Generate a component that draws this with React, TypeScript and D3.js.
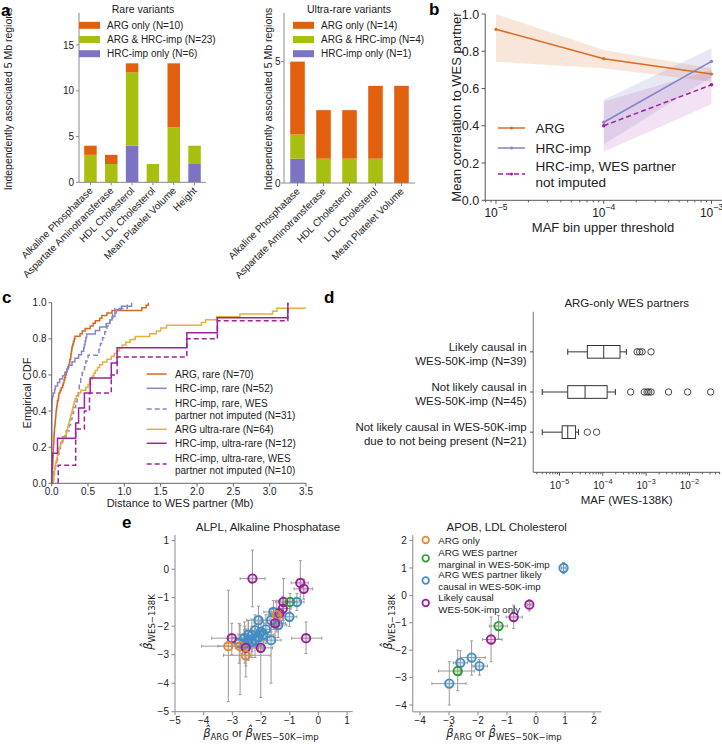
import React from 'react';
import * as d3 from 'd3';

const FONT = '"Liberation Sans", Arial, Helvetica, sans-serif';
const MATH = '"DejaVu Sans", sans-serif';
const TXT = '#222';

// ---------- Panel a data ----------
const traitsRare = ['Alkaline Phosphatase', 'Aspartate Aminotransferase', 'HDL Cholesterol', 'LDL Cholesterol', 'Mean Platelet Volume', 'Height'];
const rareHrcOnly = [0, 0, 4, 0, 0, 2];
const rareBoth = [3, 2, 8, 2, 6, 2];
const rareArgOnly = [1, 1, 1, 0, 7, 0];
const rareLegend = ['ARG only (N=10)', 'ARG & HRC-imp (N=23)', 'HRC-imp only (N=6)'];
const rareTicks = [0, 5, 10, 15];

const traitsUltra = ['Alkaline Phosphatase', 'Aspartate Aminotransferase', 'HDL Cholesterol', 'LDL Cholesterol', 'Mean Platelet Volume'];
const ultraHrcOnly = [1, 0, 0, 0, 0];
const ultraBoth = [1, 1, 1, 1, 0];
const ultraArgOnly = [3, 2, 2, 3, 4];
const ultraLegend = ['ARG only (N=14)', 'ARG & HRC-imp (N=4)', 'HRC-imp only (N=1)'];
const ultraTicks = [0, 5];

// ---------- Panel b data ----------
const argBins = [1e-5, 1e-4, 1e-3];
const argCorr = [0.918, 0.76, 0.678];
const argLo = [0.744, 0.709, 0.636];
const argHi = [1.0, 0.807, 0.709];
const hrcBins = [1e-4, 1e-3];
const hrcCorr = [0.419, 0.746];
const hrcLo = [0.3, 0.66];
const hrcHi = [0.54, 0.816];
const hrcNiCorr = [0.4, 0.62];
const hrcNiLo = [0.26, 0.516];
const hrcNiHi = [0.53, 0.7];
const bYTicks = [0, 0.2, 0.4, 0.6, 0.8, 1.0];
const bXTicks = [1e-5, 1e-4, 1e-3];
const bXExp = [5, 4, 3];

// ---------- Panel c data (distances, Mb) ----------
const argRare = [0.0, 0.0, 0.005, 0.005, 0.008, 0.01, 0.01, 0.012, 0.015, 0.015,
  0.018, 0.02, 0.02, 0.022, 0.025, 0.027, 0.03, 0.03, 0.032, 0.035,
  0.038, 0.04, 0.045, 0.048, 0.05, 0.055, 0.058, 0.06, 0.065, 0.07,
  0.075, 0.08, 0.09, 0.095, 0.1, 0.115, 0.13, 0.15, 0.16, 0.17,
  0.18, 0.19, 0.2, 0.21, 0.22, 0.235, 0.245, 0.25, 0.26, 0.265,
  0.27, 0.275, 0.28, 0.29, 0.3, 0.31, 0.32, 0.39, 0.42, 0.46,
  0.53, 0.57, 0.6, 0.66, 0.69, 0.76, 0.83, 1.24, 1.3, 1.33];
const hrcRare = [0, 0, 0, 0, 0, 0, 0, 0, 0, 0,
  0, 0, 0, 0, 0, 0, 0, 0, 0, 0,
  0.002, 0.003, 0.004, 0.005, 0.01, 0.02, 0.04, 0.05, 0.08, 0.11,
  0.15, 0.18, 0.21, 0.23, 0.28, 0.32, 0.37, 0.41, 0.44, 0.45,
  0.46, 0.47, 0.48, 0.6, 0.66, 0.75, 0.8, 0.83, 0.87, 0.89,
  0.96, 1.1];
const hrcRareNI = [0.02, 0.03, 0.05, 0.07, 0.08, 0.1, 0.12, 0.15, 0.2, 0.24,
  0.26, 0.28, 0.3, 0.33, 0.35, 0.37, 0.38, 0.4, 0.42, 0.45,
  0.47, 0.5, 0.65, 0.67, 0.7, 0.73, 0.76, 0.8, 0.84, 0.87, 1.04];
const argUltra = [0.02, 0.03, 0.03, 0.04, 0.04, 0.05, 0.05, 0.06, 0.07, 0.08,
  0.09, 0.1, 0.11, 0.12, 0.14, 0.16, 0.18, 0.2, 0.21, 0.22,
  0.23, 0.24, 0.25, 0.26, 0.27, 0.28, 0.29, 0.3, 0.31, 0.32,
  0.34, 0.36, 0.4, 0.47, 0.5, 0.52, 0.53, 0.56, 0.58, 0.6,
  0.63, 0.66, 0.7, 0.76, 0.82, 0.86, 0.9, 0.93, 0.97, 1.02,
  1.08, 1.15, 1.35, 1.44, 1.5, 1.58, 2.06, 2.12, 2.27, 2.59,
  3.04, 3.1, 3.8, 4.2];
const hrcUltra = [0.0, 0.01, 0.08, 0.33, 0.37, 0.45, 0.53, 0.82, 0.9, 1.86, 2.28, 3.25];
const hrcUltraNI = [0.09, 0.33, 0.33, 0.45, 0.52, 0.82, 0.9, 1.86, 2.28, 3.25];
const cLegend = ['ARG, rare (N=70)', 'HRC-imp, rare (N=52)', 'HRC-imp, rare, WES|partner not imputed (N=31)', 'ARG ultra-rare (N=64)', 'HRC-imp, ultra-rare (N=12)', 'HRC-imp, ultra-rare, WES|partner not imputed (N=10)'];
const cXTicks = [0, 0.5, 1.0, 1.5, 2.0, 2.5, 3.0, 3.5];
const cYTicks = [0, 0.2, 0.4, 0.6, 0.8, 1.0];

// ---------- Panel d data (MAF) ----------
const dCats = ['Likely causal in|WES-50K-imp (N=39)', 'Not likely causal in|WES-50K-imp (N=45)', 'Not likely causal in WES-50K-imp|due to not being present (N=21)'];
const dWhiskerLo = [1.55e-5, 4.0e-6, 4.0e-6];
const dQ1 = [4.4e-5, 1.55e-5, 1.15e-5];
const dMedian = [1.05e-4, 3.9e-5, 1.55e-5];
const dQ3 = [2.5e-4, 1.26e-4, 2.35e-5];
const dWhiskerHi = [3.5e-4, 1.95e-4, 2.75e-5];
const dOutliers = [
  [6.2e-4, 7.1e-4, 8.1e-4, 1.3e-3],
  [4.4e-4, 9.1e-4, 1.05e-3, 1.15e-3, 1.3e-3, 3.3e-3, 9.1e-3, 3.1e-2],
  [4.4e-5, 7.2e-5],
];
const dXTicks = [1e-5, 1e-4, 1e-3, 1e-2];
const dXExp = [5, 4, 3, 2];

// ---------- Panel e data: [category, x, y, xLo, xHi, yLo, yHi] ----------
const alplPoints: [string, number, number, number, number, number, number][] = [
  ['p', -2.30, -0.33, -2.73, -1.86, -1.32, 0.67],
  ['p', -0.63, -0.48, -0.95, -0.35, -1.10, 0.30],
  ['p', -0.51, -0.69, -0.85, -0.20, -1.05, -0.35],
  ['p', -1.22, -1.15, -1.50, -0.90, -1.90, -0.33],
  ['g', -0.99, -1.15, -1.20, -0.75, -1.50, -0.85],
  ['b', -0.75, -1.15, -1.00, -0.50, -1.45, -0.85],
  ['p', -1.24, -1.38, -1.60, -0.95, -1.80, -0.95],
  ['b', -1.57, -1.50, -1.90, -1.25, -1.90, -1.10],
  ['b', -1.01, -1.67, -1.30, -0.75, -2.00, -1.30],
  ['b', -2.09, -1.79, -2.50, -1.70, -2.30, -1.30],
  ['b', -1.65, -1.79, -2.00, -1.30, -2.20, -1.40],
  ['b', -1.40, -1.96, -1.70, -1.10, -2.40, -1.55],
  ['b', -1.83, -2.11, -2.20, -1.45, -2.60, -1.60],
  ['b', -2.21, -2.14, -2.60, -1.80, -2.70, -1.60],
  ['b', -2.00, -2.20, -2.35, -1.65, -2.70, -1.70],
  ['b', -1.92, -2.30, -2.30, -1.55, -2.80, -1.80],
  ['b', -2.45, -2.30, -2.80, -2.10, -2.80, -1.80],
  ['b', -2.32, -2.32, -2.70, -1.95, -2.90, -1.75],
  ['b', -2.09, -2.38, -2.45, -1.70, -2.90, -1.85],
  ['b', -2.21, -2.49, -2.60, -1.80, -3.10, -1.90],
  ['b', -2.44, -2.49, -2.90, -2.00, -3.20, -1.80],
  ['b', -2.58, -2.41, -3.00, -2.15, -3.00, -1.85],
  ['b', -2.76, -2.59, -3.20, -2.30, -3.30, -1.90],
  ['b', -2.56, -2.61, -2.95, -2.15, -3.30, -2.00],
  ['b', -2.32, -2.55, -2.70, -1.90, -3.10, -2.00],
  ['b', -1.65, -2.49, -2.00, -1.30, -4.00, -1.90],
  ['p', -1.36, -1.55, -1.70, -1.00, -2.00, -1.10],
  ['o', -1.45, -1.61, -1.75, -1.15, -2.20, -1.09],
  ['p', -1.51, -1.90, -1.90, -1.15, -2.40, -1.40],
  ['p', -3.02, -2.42, -3.72, -2.55, -3.00, -1.90],
  ['o', -3.14, -2.70, -4.07, -2.20, -4.65, -0.74],
  ['o', -2.73, -2.70, -3.50, -1.90, -4.40, -1.96],
  ['p', -2.53, -2.76, -2.90, -2.15, -3.40, -2.10],
  ['p', -2.01, -2.76, -2.40, -1.60, -4.50, -2.67],
  ['o', -2.53, -3.02, -3.31, -1.68, -3.78, -2.84],
  ['p', -0.43, -2.42, -0.93, 0.12, -2.96, -1.85],
];
const apobPoints: [string, number, number, number, number, number, number][] = [
  ['b', 0.95, 1.00, 0.88, 1.02, 0.79, 1.20],
  ['p', -0.23, -0.34, -0.30, -0.17, -0.57, -0.16],
  ['p', -0.77, -0.79, -1.03, -0.46, -1.21, -0.36],
  ['g', -1.29, -1.12, -1.61, -0.98, -1.58, -0.73],
  ['p', -1.55, -1.61, -1.84, -1.17, -2.42, -0.79],
  ['b', -2.22, -2.27, -2.61, -1.75, -2.91, -1.66],
  ['b', -1.95, -2.58, -2.18, -1.67, -2.91, -2.34],
  ['b', -2.61, -2.46, -2.85, -2.36, -2.91, -2.02],
  ['g', -2.70, -2.76, -3.36, -2.13, -3.48, -2.00],
  ['b', -2.99, -3.22, -3.59, -2.41, -4.00, -2.42],
];
const eLegend = ['ARG only', 'ARG WES partner|marginal in WES-50K-imp', 'ARG WES partner likely|causal in WES-50K-imp', 'Likely causal|WES-50K-imp only'];
const eLegendCats = ['o', 'g', 'b', 'p'];
const alplTicks = [-5, -4, -3, -2, -1, 0, 1];
const apobXTicks = [-4, -3, -2, -1, 0, 1, 2];
const apobYTicks = [-4, -3, -2, -1, 0, 1, 2];

// ---------- colours ----------
const PA: Record<string, string> = { arg: '#e0600e', both: '#a9bf0f', hrc: '#7c74c2' };
const EC: Record<string, string> = { o: '#ea8530', g: '#2e9b30', b: '#3f8ec8', p: '#9a1f96' };

const minus = (v: number) => (v < 0 ? '\u2212' + Math.abs(v) : String(v));

function Sup({ x, y, exp, size = 10, anchor = 'middle' }: any) {
  return (
    <text x={x} y={y} textAnchor={anchor} fontSize={size} fill={TXT}>
      10<tspan dy={-size * 0.55} fontSize={size * 0.72}>{'\u2212' + exp}</tspan>
    </text>
  );
}

function BarPanel({ cats, hrc, both, arg, xr, pi, po, yBottom, yTop, yMax, ticks, title, titleX, legendLabels, legendX, ylabelX, tickGap }: any) {
  const x = d3.scaleBand<string>().domain(cats).range(xr).paddingInner(pi).paddingOuter(po);
  const y = d3.scaleLinear().domain([0, yMax]).range([yBottom, yTop]);
  const rows = cats.map((c: string, i: number) => ({ cat: c, hrc: hrc[i], both: both[i], arg: arg[i] }));
  const series = d3.stack<any>().keys(['hrc', 'both', 'arg'])(rows);
  const legendKeys = ['arg', 'both', 'hrc'];
  return (
    <g>
      {series.map((s) =>
        s.map((d, i) =>
          d[1] > d[0] ? (
            <rect key={s.key + i} x={x(cats[i])} width={x.bandwidth()} y={y(d[1])} height={y(d[0]) - y(d[1])} fill={PA[s.key]} />
          ) : null
        )
      )}
      <line x1={xr[0]} x2={xr[0]} y1={yBottom} y2={yTop} stroke="#8a8a8a" />
      <line x1={xr[0]} x2={xr[1]} y1={yBottom} y2={yBottom} stroke="#8a8a8a" />
      {ticks.map((t: number) => (
        <g key={t}>
          <line x1={xr[0] - 3} x2={xr[0]} y1={y(t)} y2={y(t)} stroke="#8a8a8a" />
          <text x={xr[0] - tickGap} y={y(t) + 3.5} textAnchor="end" fontSize={10} fill={TXT}>{t}</text>
        </g>
      ))}
      {cats.map((c: string) => {
        const cx = (x(c) as number) + x.bandwidth() / 2;
        return (
          <g key={c}>
            <line x1={cx} x2={cx} y1={yBottom} y2={yBottom + 3} stroke="#8a8a8a" />
            <text transform={`translate(${cx + 3},${yBottom + 9}) rotate(-45)`} textAnchor="end" fontSize={10} fill={TXT}>{c}</text>
          </g>
        );
      })}
      <text x={titleX} y={13} textAnchor="middle" fontSize={10.5} fill={TXT}>{title}</text>
      {legendKeys.map((k, i) => (
        <g key={k}>
          <rect x={legendX} y={21.8 + i * 14.2} width={21} height={7} fill={PA[k]} />
          <text x={legendX + 28} y={29 + i * 14.2} fontSize={10} fill={TXT}>{legendLabels[i]}</text>
        </g>
      ))}
      <text transform={`translate(${ylabelX},99) rotate(-90)`} textAnchor="middle" fontSize={10.5} fill={TXT}>Independently associated 5 Mb regions</text>
    </g>
  );
}

function PanelB() {
  const x = d3.scaleLog().domain([10 ** -5.1, 10 ** -2.9]).range([485.2, 722.3]);
  const y = d3.scaleLinear().domain([0, 1]).range([200.3, 14]);
  const area = d3.area<number[]>().x((d) => x(d[0])).y0((d) => y(d[1])).y1((d) => y(d[2]));
  const line = d3.line<number[]>().x((d) => x(d[0])).y((d) => y(d[1]));
  const argBand = argBins.map((b, i) => [b, argLo[i], argHi[i]]);
  const hrcBand = hrcBins.map((b, i) => [b, hrcLo[i], hrcHi[i]]);
  const niBand = hrcBins.map((b, i) => [b, hrcNiLo[i], hrcNiHi[i]]);
  const cA = '#dc6a24', cH = '#8282c8', cN = '#a2219f';
  const minor: number[] = [];
  for (let e = -6; e <= -3; e++) for (let m = 2; m <= 9; m++) {
    const v = m * 10 ** e;
    if (v > x.domain()[0] && v < x.domain()[1]) minor.push(v);
  }
  const x0 = 485.2, yb = 200.3;
  const leg = [
    { c: cA, dash: '', y: 128, lines: ['ARG'] },
    { c: cH, dash: '', y: 148, lines: ['HRC-imp'] },
    { c: cN, dash: '5,3', y: 174, lines: ['HRC-imp, WES partner', 'not imputed'] },
  ];
  return (
    <g>
      <path d={area(argBand) as string} fill={cA} fillOpacity={0.17} />
      <path d={area(hrcBand) as string} fill={cH} fillOpacity={0.18} />
      <path d={area(niBand) as string} fill={cN} fillOpacity={0.13} />
      <path d={line(argBins.map((b, i) => [b, argCorr[i]])) as string} fill="none" stroke={cA} strokeWidth={1.5} />
      <path d={line(hrcBins.map((b, i) => [b, hrcCorr[i]])) as string} fill="none" stroke={cH} strokeWidth={1.5} />
      <path d={line(hrcBins.map((b, i) => [b, hrcNiCorr[i]])) as string} fill="none" stroke={cN} strokeWidth={1.5} strokeDasharray="5,3" />
      {argBins.map((b, i) => <circle key={'a' + i} cx={x(b)} cy={y(argCorr[i])} r={1.6} fill={cA} />)}
      {hrcBins.map((b, i) => <circle key={'h' + i} cx={x(b)} cy={y(hrcCorr[i])} r={1.6} fill={cH} />)}
      {hrcBins.map((b, i) => <circle key={'n' + i} cx={x(b)} cy={y(hrcNiCorr[i])} r={1.8} fill={cN} />)}
      <line x1={x0} x2={x0} y1={yb} y2={14} stroke="#555" />
      <line x1={x0} x2={722} y1={yb} y2={yb} stroke="#555" />
      {bYTicks.map((t) => (
        <g key={t}>
          <line x1={x0 - 3.5} x2={x0} y1={y(t)} y2={y(t)} stroke="#555" />
          <text x={x0 - 6} y={y(t) + 4.5} textAnchor="end" fontSize={12.5} fill={TXT}>{t.toFixed(1)}</text>
        </g>
      ))}
      {minor.map((m, i) => <line key={i} x1={x(m)} x2={x(m)} y1={yb} y2={yb + 2} stroke="#555" />)}
      {bXTicks.map((t, i) => (
        <g key={t}>
          <line x1={x(t)} x2={x(t)} y1={yb} y2={yb + 3.5} stroke="#555" />
          <Sup x={x(t)} y={217} exp={bXExp[i]} size={12} />
        </g>
      ))}
      <text x={603} y={232} textAnchor="middle" fontSize={13} fill={TXT}>MAF bin upper threshold</text>
      <text transform="translate(461,107) rotate(-90)" textAnchor="middle" fontSize={13} fill={TXT}>Mean correlation to WES partner</text>
      {leg.map((l) => (
        <g key={l.y}>
          <line x1={498} x2={525} y1={l.y} y2={l.y} stroke={l.c} strokeWidth={1.5} strokeDasharray={l.dash} />
          <circle cx={511.5} cy={l.y} r={1.6} fill={l.c} />
          {l.lines.map((t, j) => (
            <text key={j} x={535.5} y={l.y + 5 - (l.lines.length - 1) * 8 + j * 16} fontSize={13.5} fill={TXT}>{t}</text>
          ))}
        </g>
      ))}
    </g>
  );
}

function PanelC() {
  const x = d3.scaleLinear().domain([0, 3.5]).range([51.7, 306]);
  const y = d3.scaleLinear().domain([0, 1]).range([483.3, 302.7]);
  const line = d3.line<number[]>().x((d) => x(d[0])).y((d) => y(d[1])).curve(d3.curveStepAfter);
  const ecdf = (v: number[]) => {
    const s = [...v].sort((a, b) => a - b);
    const n = s.length;
    return [[s[0], 0], ...s.map((d, i) => [d, (i + 1) / n])];
  };
  const cAr = '#d9661f', cHr = '#8585c8', cAu = '#e6b03c', cHu = '#a0209f';
  const curves = [
    { v: argRare, c: cAr, dash: '' },
    { v: hrcRare, c: cHr, dash: '' },
    { v: hrcRareNI, c: cHr, dash: '5,3' },
    { v: argUltra, c: cAu, dash: '' },
    { v: hrcUltra, c: cHu, dash: '' },
    { v: hrcUltraNI, c: cHu, dash: '5,3' },
  ];
  const legY = [374, 388.3, 409, 429.3, 443.3, 464];
  return (
    <g>
      <defs>
        <clipPath id="clipC"><rect x={45} y={295} width={306 - 45} height={200} /></clipPath>
      </defs>
      <g clipPath="url(#clipC)">
        {curves.map((c, i) => (
          <path key={i} d={line(ecdf(c.v)) as string} fill="none" stroke={c.c} strokeWidth={1.5} strokeDasharray={c.dash} />
        ))}
      </g>
      <line x1={51.7} x2={51.7} y1={483.3} y2={302.7} stroke="#666" />
      <line x1={51.7} x2={306} y1={483.3} y2={483.3} stroke="#666" />
      {cYTicks.map((t) => (
        <g key={t}>
          <line x1={48.5} x2={51.7} y1={y(t)} y2={y(t)} stroke="#666" />
          <text x={46.5} y={y(t) + 3.5} textAnchor="end" fontSize={10} fill={TXT}>{t.toFixed(1)}</text>
        </g>
      ))}
      {cXTicks.map((t) => (
        <g key={t}>
          <line x1={x(t)} x2={x(t)} y1={483.3} y2={486.5} stroke="#666" />
          <text x={x(t)} y={495} textAnchor="middle" fontSize={10} fill={TXT}>{t.toFixed(1)}</text>
        </g>
      ))}
      <text x={180} y={507} textAnchor="middle" fontSize={11} fill={TXT}>Distance to WES partner (Mb)</text>
      <text transform="translate(31,393) rotate(-90)" textAnchor="middle" fontSize={11} fill={TXT}>Empirical CDF</text>
      {curves.map((c, i) => {
        const lines = cLegend[i].split('|');
        return (
          <g key={i}>
            <line x1={146.7} x2={166.7} y1={legY[i]} y2={legY[i]} stroke={c.c} strokeWidth={1.5} strokeDasharray={c.dash} />
            {lines.map((t, j) => (
              <text key={j} x={175} y={legY[i] + 3.6 - (lines.length - 1) * 5.6 + j * 11.5} fontSize={10} fill={TXT}>{t}</text>
            ))}
          </g>
        );
      })}
    </g>
  );
}

function PanelD() {
  const x = d3.scaleLog().domain([10 ** -5.605, 10 ** -1.293]).range([533.3, 720]);
  const y = d3.scalePoint<string>().domain(dCats).range([311.7, 472.3]).padding(1);
  const minor: number[] = [];
  for (let e = -6; e <= -2; e++) for (let m = 2; m <= 9; m++) {
    const v = m * 10 ** e;
    if (v > x.domain()[0] && v < x.domain()[1]) minor.push(v);
  }
  const bh = 12.7;
  return (
    <g>
      <text x={626.7} y={306.5} textAnchor="middle" fontSize={11.5} fill={TXT}>ARG-only WES partners</text>
      <line x1={533.3} x2={533.3} y1={311.7} y2={472.3} stroke="#999" strokeWidth={1.4} />
      <line x1={533.3} x2={720} y1={472.3} y2={472.3} stroke="#555" />
      {dCats.map((c, i) => {
        const cy = y(c) as number;
        const lines = c.split('|');
        return (
          <g key={c}>
            <line x1={530} x2={533.3} y1={cy} y2={cy} stroke="#555" />
            {lines.map((t, j) => (
              <text key={j} x={526.7} y={cy - 1 + j * 14.3} textAnchor="end" fontSize={11.5} fill={TXT}>{t}</text>
            ))}
            <line x1={x(dWhiskerLo[i])} x2={x(dQ1[i])} y1={cy} y2={cy} stroke="#333" />
            <line x1={x(dQ3[i])} x2={x(dWhiskerHi[i])} y1={cy} y2={cy} stroke="#333" />
            <line x1={x(dWhiskerLo[i])} x2={x(dWhiskerLo[i])} y1={cy - 3} y2={cy + 3} stroke="#333" />
            <line x1={x(dWhiskerHi[i])} x2={x(dWhiskerHi[i])} y1={cy - 3} y2={cy + 3} stroke="#333" />
            <rect x={x(dQ1[i])} y={cy - bh / 2} width={x(dQ3[i]) - x(dQ1[i])} height={bh} fill="white" stroke="#333" />
            <line x1={x(dMedian[i])} x2={x(dMedian[i])} y1={cy - bh / 2} y2={cy + bh / 2} stroke="#333" />
            {dOutliers[i].map((o, k) => (
              <circle key={k} cx={x(o)} cy={cy} r={3.2} fill="none" stroke="#333" strokeWidth={0.9} />
            ))}
          </g>
        );
      })}
      {minor.map((m, i) => <line key={i} x1={x(m)} x2={x(m)} y1={472.3} y2={474.3} stroke="#555" />)}
      {dXTicks.map((t, i) => (
        <g key={t}>
          <line x1={x(t)} x2={x(t)} y1={472.3} y2={475.8} stroke="#555" />
          <Sup x={x(t)} y={489} exp={dXExp[i]} size={10} />
        </g>
      ))}
      <text x={626.7} y={503.5} textAnchor="middle" fontSize={11.5} fill={TXT}>MAF (WES-138K)</text>
    </g>
  );
}

function BetaX({ cx, y }: any) {
  return (
    <text x={cx} y={y} textAnchor="middle" fontSize={11.5} fill={TXT}>
      <tspan fontFamily={MATH} fontStyle="italic">{'\u03B2\u0302'}</tspan>
      <tspan fontFamily={MATH} fontSize={8.5} dy={3}>ARG</tspan>
      <tspan dy={-3}>{' or '}</tspan>
      <tspan fontFamily={MATH} fontStyle="italic">{'\u03B2\u0302'}</tspan>
      <tspan fontFamily={MATH} fontSize={8.5} dy={3}>{'WES\u221250K\u2212imp'}</tspan>
    </text>
  );
}

function BetaY({ x, cy }: any) {
  return (
    <text transform={`translate(${x},${cy}) rotate(-90)`} textAnchor="middle" fontSize={11.5} fill={TXT}>
      <tspan fontFamily={MATH} fontStyle="italic">{'\u03B2\u0302'}</tspan>
      <tspan fontFamily={MATH} fontSize={8.5} dy={3}>{'WES\u2212138K'}</tspan>
    </text>
  );
}

function ScatterPanel({ pts, xd, xr, yd, yr, xTicks, yTicks, title, titleX, ylabX, legend }: any) {
  const x = d3.scaleLinear().domain(xd).range(xr);
  const y = d3.scaleLinear().domain(yd).range(yr);
  const ax = '#888';
  return (
    <g>
      <text x={titleX} y={531} textAnchor="middle" fontSize={11.5} fill={TXT}>{title}</text>
      {pts.map((p: any, i: number) => (
        <g key={'e' + i} stroke="#9a9a9a" strokeWidth={1}>
          <line x1={x(p[3])} x2={x(p[4])} y1={y(p[2])} y2={y(p[2])} />
          <line x1={x(p[1])} x2={x(p[1])} y1={y(p[5])} y2={y(p[6])} />
          <line x1={x(p[3])} x2={x(p[3])} y1={y(p[2]) - 1.5} y2={y(p[2]) + 1.5} />
          <line x1={x(p[4])} x2={x(p[4])} y1={y(p[2]) - 1.5} y2={y(p[2]) + 1.5} />
          <line x1={x(p[1]) - 1.5} x2={x(p[1]) + 1.5} y1={y(p[5])} y2={y(p[5])} />
          <line x1={x(p[1]) - 1.5} x2={x(p[1]) + 1.5} y1={y(p[6])} y2={y(p[6])} />
        </g>
      ))}
      {pts.map((p: any, i: number) => (
        <circle key={'c' + i} cx={x(p[1])} cy={y(p[2])} r={4.2} fill={EC[p[0]]} fillOpacity={0.18} stroke={EC[p[0]]} strokeWidth={1.9} />
      ))}
      <line x1={xr[0]} x2={xr[0]} y1={yr[0]} y2={yr[1]} stroke={ax} />
      <line x1={xr[0]} x2={xr[1]} y1={yr[0]} y2={yr[0]} stroke={ax} />
      {yTicks.map((t: number) => (
        <g key={t}>
          <line x1={xr[0] - 3.5} x2={xr[0]} y1={y(t)} y2={y(t)} stroke={ax} />
          <text x={xr[0] - 6} y={y(t) + 3.6} textAnchor="end" fontSize={10} fill={TXT}>{minus(t)}</text>
        </g>
      ))}
      {xTicks.map((t: number) => (
        <g key={t}>
          <line x1={x(t)} x2={x(t)} y1={yr[0]} y2={yr[0] + 3.5} stroke={ax} />
          <text x={x(t)} y={723.5} textAnchor="middle" fontSize={10} fill={TXT}>{minus(t)}</text>
        </g>
      ))}
      <BetaX cx={(xr[0] + xr[1]) / 2 - 3} y={737} />
      <BetaY x={ylabX} cy={622} />
      {legend &&
        eLegend.map((l, i) => {
          const ys = [540, 558.3, 580.5, 603];
          const lines = l.split('|');
          return (
            <g key={l}>
              <circle cx={425.7} cy={ys[i]} r={3.3} fill="white" stroke={EC[eLegendCats[i]]} strokeWidth={1.7} />
              {lines.map((t, j) => (
                <text key={j} x={438.3} y={ys[i] + 3.5 - (lines.length - 1) * 5.8 + j * 11.8} fontSize={9.7} fill={TXT}>{t}</text>
              ))}
            </g>
          );
        })}
    </g>
  );
}

export default function App() {
  return (
    <svg width={722} height={746} style={{ position: 'absolute', left: 0, top: 0, background: 'white' }} fontFamily={FONT}>
      <rect width={722} height={746} fill="white" />
      <BarPanel cats={traitsRare} hrc={rareHrcOnly} both={rareBoth} arg={rareArgOnly} xr={[79, 206]} pi={0.4} po={0.25}
        yBottom={182.3} yTop={13} yMax={18.5} ticks={rareTicks} title="Rare variants" titleX={143}
        legendLabels={rareLegend} legendX={79} ylabelX={12} tickGap={5} />
      <BarPanel cats={traitsUltra} hrc={ultraHrcOnly} both={ultraBoth} arg={ultraArgOnly} xr={[284, 415]} pi={0.44} po={0.24}
        yBottom={183} yTop={13} yMax={7.0} ticks={ultraTicks} title="Ultra-rare variants" titleX={349}
        legendLabels={ultraLegend} legendX={293} ylabelX={272} tickGap={3.5} />
      <PanelB />
      <PanelC />
      <PanelD />
      <ScatterPanel pts={alplPoints} xd={[-5, 1.2]} xr={[175, 352.8]} yd={[-5, 1.2]} yr={[711.7, 535]}
        xTicks={alplTicks} yTicks={alplTicks} title="ALPL, Alkaline Phosphatase" titleX={268} ylabX={152} legend={false} />
      <ScatterPanel pts={apobPoints} xd={[-4.25, 2.25]} xr={[412.75, 601.25]} yd={[-4.25, 2.2]} yr={[711.85, 535.1]}
        xTicks={apobXTicks} yTicks={apobYTicks} title="APOB, LDL Cholesterol" titleX={506.7} ylabX={392} legend={true} />
      <g fontWeight="bold" fontSize={17} fill="#000">
        <text x={1} y={16}>a</text>
        <text x={429} y={15}>b</text>
        <text x={2} y={303}>c</text>
        <text x={324} y={303}>d</text>
        <text x={122} y={528}>e</text>
      </g>
    </svg>
  );
}
